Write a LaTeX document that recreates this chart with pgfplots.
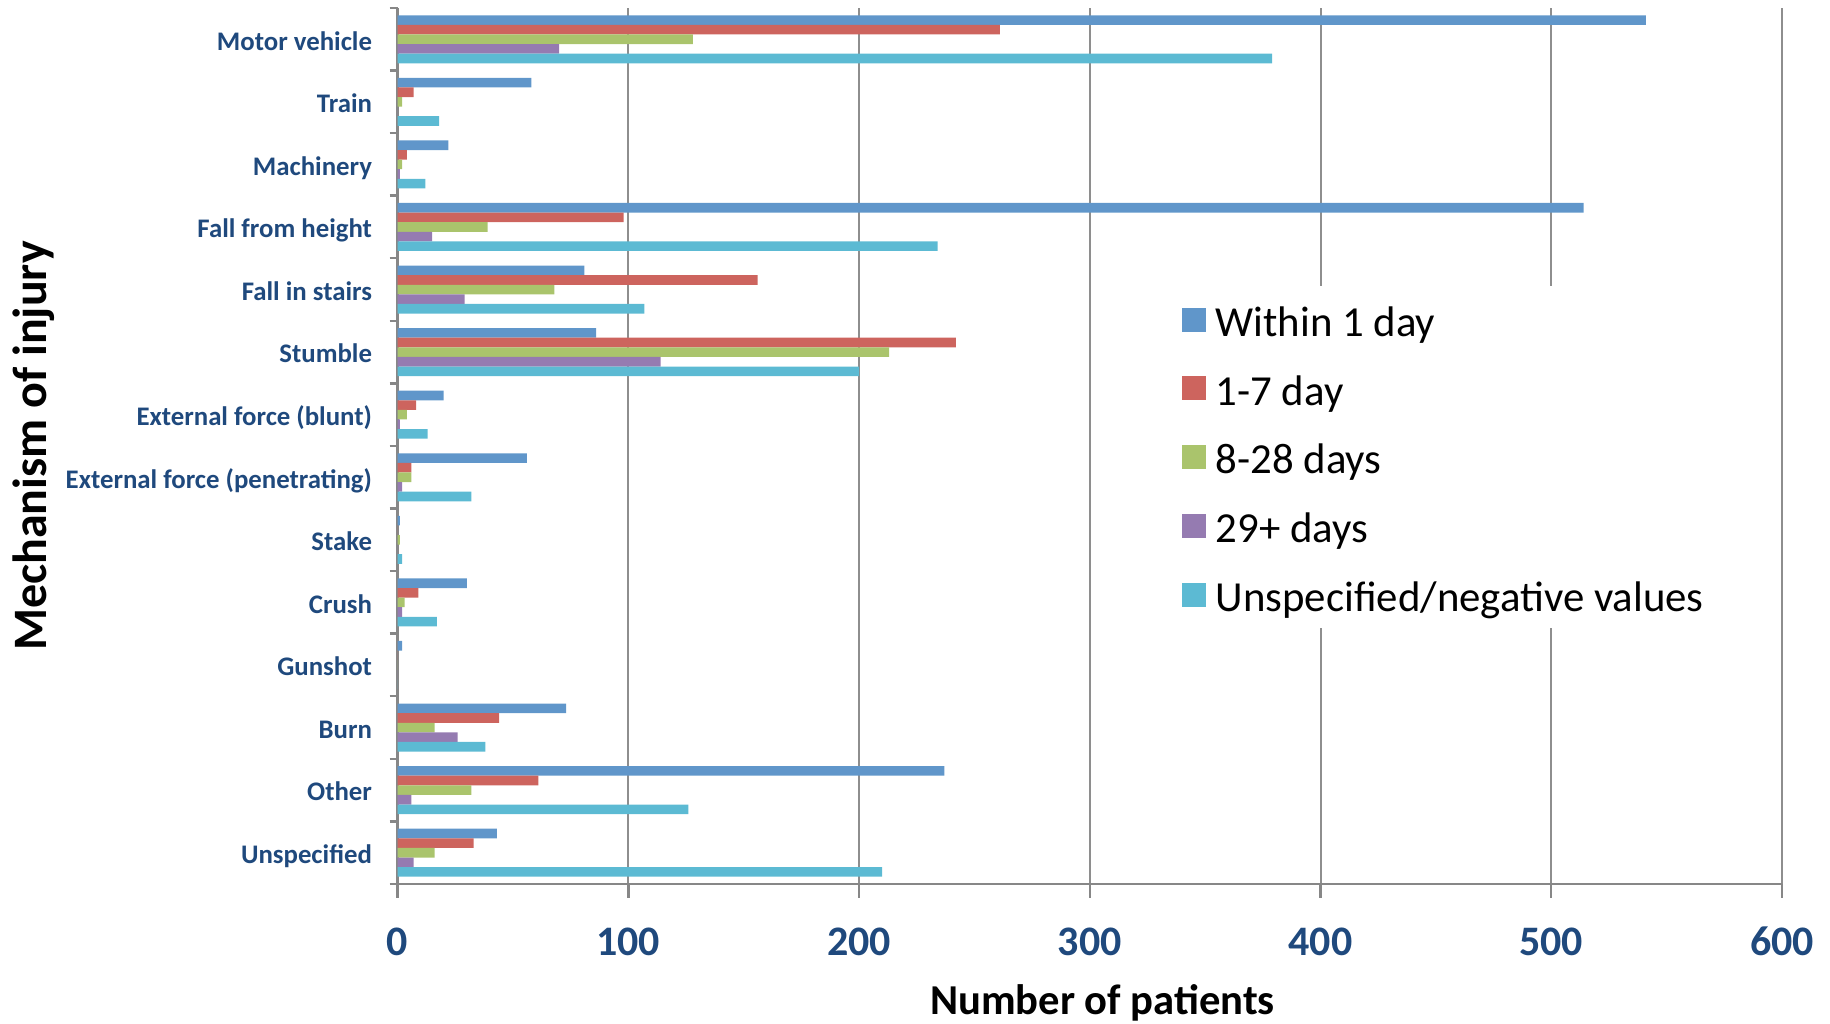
\documentclass[border=0pt]{standalone}
\usepackage{pgfplots}
\pgfplotsset{compat=1.18}
\usepackage{pgfplotstable}
\usepackage{fontspec}
\setmainfont{Carlito}
\definecolor{cA}{HTML}{6096CA}
\definecolor{cB}{HTML}{CD645E}
\definecolor{cC}{HTML}{AAC46C}
\definecolor{cD}{HTML}{957BB1}
\definecolor{cE}{HTML}{5CBAD3}
\definecolor{dblue}{HTML}{1F497D}
\definecolor{axgray}{HTML}{878787}
\definecolor{gridgray}{HTML}{8E8E8E}
\pgfplotstableread{
y a b c d e
0 43 33 16 7 210
1 237 61 32 6 126
2 73 44 16 26 38
3 2 0 0 0 0
4 30 9 3 2 17
5 1 0 1 0 2
6 56 6 6 2 32
7 20 8 4 1 13
8 86 242 213 114 200
9 81 156 68 29 107
10 514 98 39 15 234
11 22 4 2 1 12
12 58 7 2 0 18
13 541 261 128 70 379
}\data
\begin{document}
\begin{tikzpicture}
\useasboundingbox (-99.4pt,-35pt) rectangle (358.1pt,221pt);
\begin{axis}[
  scale only axis, width=346.1pt, height=219pt,
  xbar, bar width=2.4pt,
  xmin=0, xmax=600, ymin=-0.5, ymax=13.5,
  axis x line*=bottom, axis y line*=left,
  axis line style={-, draw=axgray, line width=0.6pt},
  tick align=outside,
  major tick length=3.5pt, minor tick length=2pt,
  xtick={0,100,...,600},
  xmajorgrids, grid style={draw=gridgray, line width=0.5pt},
  ytick={0,...,13},
  yticklabels={Unspecified, Other, Burn, Gunshot, Crush, Stake, {External force (penetrating)}, {External force (blunt)}, Stumble, Fall in stairs, Fall from height, Machinery, Train~, Motor vehicle},
  minor ytick={-0.5,0.5,...,13.5},
  major y tick style={draw=none},
  minor y tick style={draw=axgray, line width=0.6pt},
  major x tick style={draw=axgray, line width=0.6pt},
  /pgf/number format/assume math mode=true,
  xticklabel style={font=\fontsize{10.5}{12}\selectfont\bfseries, text=dblue, anchor=base, inner sep=0pt, yshift=-14.5pt},
  yticklabel style={font=\fontsize{6.7}{8}\selectfont\bfseries, text=dblue, anchor=east, inner sep=0pt, text height=6pt, text depth=0.6pt, xshift=-2.7pt},
  xlabel={Number of patients},
  xlabel style={at={(axis description cs:0.5092,-0.1495)}, anchor=base, inner sep=0pt, font=\fontsize{10.65}{12}\selectfont\bfseries},
  ylabel={Mechanism of injury},
  ylabel style={at={(axis description cs:-0.2534,0.5)}, anchor=base, rotate=0, inner sep=0pt, font=\fontsize{12}{14}\selectfont\bfseries},
  legend style={at={(0.5485,0.6831)}, anchor=north west, draw=none, fill=white,
    inner xsep=6pt, inner ysep=3pt, row sep=6.6pt, column sep=2.5pt,
    font=\fontsize{10.7}{12}\selectfont,
    nodes={inner sep=0pt, text height=9.5pt, text depth=1.1pt, anchor=base west}},
  legend image code/.code={\fill[#1] (0pt,1.2pt) rectangle (6pt,7.2pt);},
]
\addplot[fill=cA, draw=none, bar shift=4.8pt] table[x=a, y=y] {\data};
\addplot[fill=cB, draw=none, bar shift=2.4pt] table[x=b, y=y] {\data};
\addplot[fill=cC, draw=none, bar shift=0pt] table[x=c, y=y] {\data};
\addplot[fill=cD, draw=none, bar shift=-2.4pt] table[x=d, y=y] {\data};
\addplot[fill=cE, draw=none, bar shift=-4.8pt] table[x=e, y=y] {\data};
\legend{Within 1 day, 1-7 day, 8-28 days, 29+ days, Unspecified/negative values}
\end{axis}
\end{tikzpicture}
\end{document}
